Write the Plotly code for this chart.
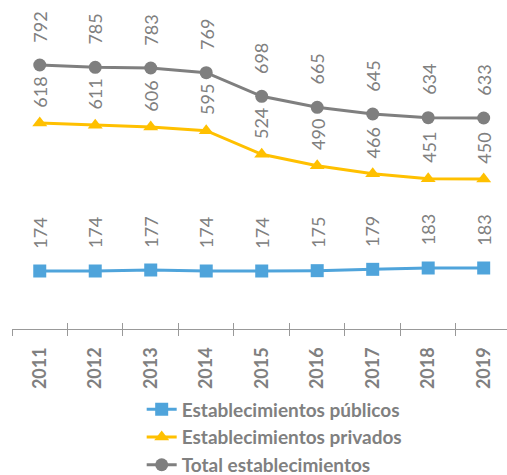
import plotly.graph_objects as go

years = ["2011", "2012", "2013", "2014", "2015", "2016", "2017", "2018", "2019"]
publicos = [174, 174, 177, 174, 174, 175, 179, 183, 183]
privados = [618, 611, 606, 595, 524, 490, 466, 451, 450]
total = [792, 785, 783, 769, 698, 665, 645, 634, 633]

names = ["Establecimientos públicos", "Establecimientos privados", "Total establecimientos"]
colors = ["#4FA4DB", "#FFC000", "#7F7F7F"]
symbols = ["square", "triangle-up", "circle"]
label_shift = [38, 31, 38]

FONT = "Lato"
GRAY = "#808080"

fig = go.Figure()
series = [publicos, privados, total]
for vals, name, col, sym in zip(series, names, colors, symbols):
    fig.add_trace(go.Scatter(
        x=years, y=vals, name=name, mode="lines+markers",
        line=dict(color=col, width=3),
        marker=dict(symbol=sym, size=13, color=col),
        hoverinfo="x+y",
    ))

annotations = []
for vals, shift in zip(series, label_shift):
    for i, yv in enumerate(vals):
        annotations.append(dict(
            x=i, y=yv, xref="x", yref="y", text=str(yv), showarrow=False, textangle=-90,
            xanchor="center", yanchor="middle", yshift=shift,
            font=dict(family=FONT, size=18, color=GRAY),
        ))

fig.add_trace(go.Scatter(x=years, y=[None]*len(years), xaxis="x2", showlegend=False, hoverinfo="skip"))

XR = [-0.5, 8.42]

fig.update_layout(
    width=507, height=475,
    margin=dict(l=12, r=0, t=29, b=146, autoexpand=False),
    paper_bgcolor="white", plot_bgcolor="white",
    showlegend=True,
    legend=dict(
        orientation="v", x=0.262, xanchor="left", y=-0.205, yanchor="top",
        font=dict(family=FONT, size=19, color=GRAY, weight="bold"),
        tracegroupgap=0, itemsizing="trace", traceorder="normal",
    ),
    xaxis=dict(
        type="category", range=XR,
        showline=True, linecolor="#999999", linewidth=1.3,
        ticks="outside", tickson="boundaries", ticklen=6, tickcolor="#999999", tickwidth=1.3,
        tickangle=-90, ticklabelstandoff=10,
        tickfont=dict(family=FONT, size=18, color=GRAY, weight="bold"),
        showgrid=False, zeroline=False,
    ),
    xaxis2=dict(
        type="category", range=XR, overlaying="x", anchor="y",
        ticks="inside", tickson="boundaries", ticklen=6, tickcolor="#999999", tickwidth=1.3,
        showticklabels=False, showline=False, showgrid=False, zeroline=False,
    ),
    yaxis=dict(range=[0, 900], visible=False, showgrid=False, zeroline=False),
    annotations=annotations,
)

fig.write_html("out.html", config={"displayModeBar": False},
               post_script="document.body.style.margin='0';")
